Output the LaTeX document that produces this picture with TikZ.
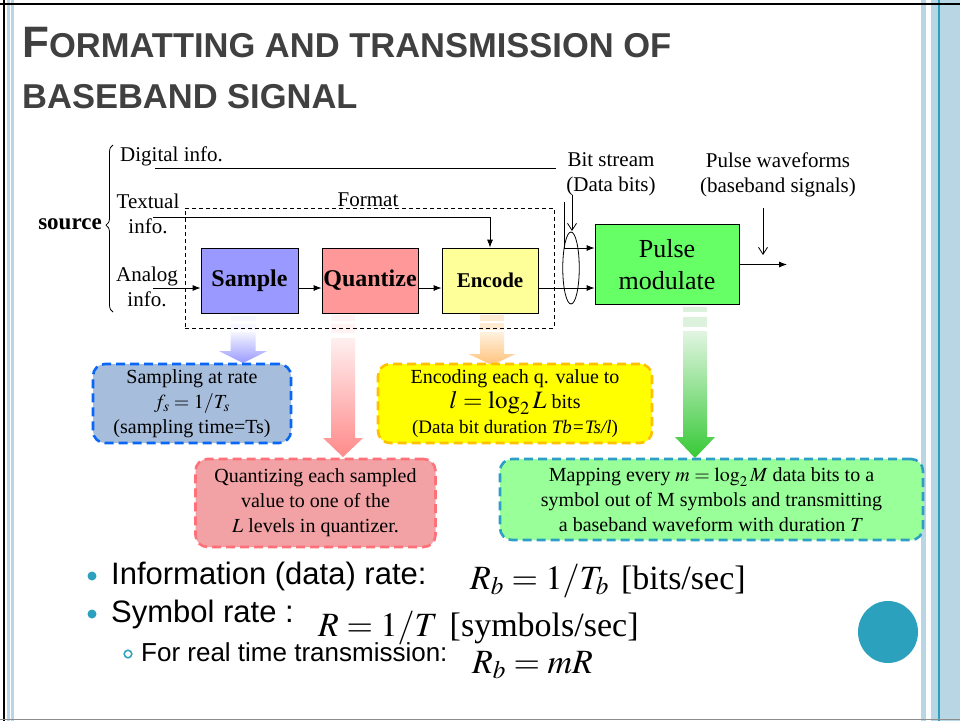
\documentclass[tikz,border=0pt]{standalone}
\usepackage{mathptmx}
\usepackage{fontspec}
\setmainfont{Liberation Serif}
\setsansfont{Liberation Sans}
\usetikzlibrary{arrows.meta,decorations.pathreplacing,shapes.geometric}
\newcommand\fsz[2]{\fontsize{#1}{#2}\selectfont}
\definecolor{tgray}{HTML}{404040}
\definecolor{sampleblue}{HTML}{9999FF}
\definecolor{quantred}{HTML}{FF9999}
\definecolor{encyellow}{HTML}{FFFF99}
\definecolor{pulsegreen}{HTML}{66FF66}
\definecolor{cbluefill}{HTML}{A7BDDC}
\definecolor{cblueborder}{HTML}{0A66F5}
\definecolor{credfill}{HTML}{F2A2A4}
\definecolor{credborder}{HTML}{FF7078}
\definecolor{cyelfill}{HTML}{FFFF00}
\definecolor{cyelborder}{HTML}{FFC000}
\definecolor{cgreenfill}{HTML}{99FF99}
\definecolor{cgreenborder}{HTML}{2E9FC4}
\definecolor{tealc}{HTML}{2CA1BE}
\definecolor{stripec}{HTML}{B8D6E4}
\definecolor{garrtop}{HTML}{E2F5E2}
\definecolor{garrbot}{HTML}{36C936}
\definecolor{garrstripe}{HTML}{DCF2DC}
\definecolor{oarrtop}{HTML}{FFF1DE}
\definecolor{oarrbot}{HTML}{FFC27A}
\definecolor{oarrstripe}{HTML}{FFEBD2}
\newcommand\garrow[8]{\shade[top color=#7, bottom color=#8] ({#1-#5},#2) -- ({#1+#5},#2) -- ({#1+#5},#3) -- ({#1+#6},#3) -- (#1,#4) -- ({#1-#6},#3) -- ({#1-#5},#3) -- cycle;}
\tikzset{
  blk/.style={draw=black, line width=0.8pt, inner sep=0pt, align=center},
  callout/.style={rounded corners=12pt, line width=2.6pt, dash pattern=on 9pt off 5pt, align=center, inner sep=0pt, font=\fsz{20}{25}},
  arr/.style={-{Latex[length=8pt,width=6pt]}, line width=0.8pt},
  barb/.style={-{Straight Barb[length=7pt,width=9pt]}, line width=0.8pt},
  bul/.style={anchor=base west, inner sep=0pt, font=\sffamily\fsz{31}{36}},
  eq/.style={anchor=base west, inner sep=0pt, font=\fsz{34}{40}},
}
\begin{document}
\begin{tikzpicture}[x=1pt,y=-1pt, font=\fsz{21}{25}]
\useasboundingbox (0,0) rectangle (960,721);
\fill[white] (0,0) rectangle (960,721);
% frame
\fill[stripec] (7,0) rectangle (10,721);
\fill[stripec] (11,0) rectangle (13.5,721);
\draw[line width=2pt] (4,0) -- (4,721);
\fill[stripec] (921,0) rectangle (926,721);
\fill[stripec] (931,0) rectangle (960,721);
\draw[tealc, line width=1.5pt] (939,0) -- (939,721);
\draw[line width=2pt] (0,4) -- (960,4);
\draw[black!45, line width=1.5pt] (0,719.5) -- (960,719.5);
% title
\node[anchor=base west, text=tgray, font=\sffamily\bfseries, inner sep=0pt] (title1) at (22,57) {\fsz{44}{44}F\fsz{34.5}{34.5}ORMATTING AND TRANSMISSION OF};
\node[anchor=base west, text=tgray, font=\sffamily\bfseries, inner sep=0pt] (title2) at (22,108) {\fsz{34.5}{34.5}BASEBAND SIGNAL};
% gradient arrows
\fill[white!92!sampleblue] (230.5,316) rectangle (255.5,321);
\fill[white!92!sampleblue] (230.5,324) rectangle (255.5,330);
\garrow{243}{332}{351}{363}{12.5}{24}{white!90!sampleblue}{sampleblue}
\fill[white!88!quantred] (331,315) rectangle (355,321);
\fill[white!88!quantred] (331,324) rectangle (355,333);
\garrow{343}{338}{438}{457}{12}{20}{white!85!quantred}{quantred!90!red}
\fill[oarrstripe] (480,315) rectangle (504,321);
\fill[oarrstripe] (480,323) rectangle (504,330);
\garrow{492}{332}{354}{365}{12}{23.5}{oarrtop}{oarrbot}
\fill[garrstripe] (683,307) rectangle (707,312);
\fill[garrstripe] (683,317) rectangle (707,327);
\garrow{695}{331}{437}{458}{12}{20}{garrtop}{garrbot}
% format box
\node[draw, dashed, dash pattern=on 4pt off 3pt, line width=0.8pt, minimum width=369pt, minimum height=120pt, inner sep=0pt] (fmtbox) at (369.5,268) {};
\node (fmt) at (368,200) {Format};
% blocks
\node[blk, fill=sampleblue, minimum width=97pt, minimum height=65pt, font=\fsz{24}{28}\bfseries] (sample) at (249.5,280.5) {Sample};
\node[blk, fill=quantred, minimum width=96pt, minimum height=65pt, font=\fsz{24}{28}\bfseries] (quant) at (370,280.5) {Quantize};
\node[blk, fill=encyellow, minimum width=96pt, minimum height=65pt, font=\fsz{21}{25}\bfseries] (enc) at (490,280.5) {Encode};
\node[blk, fill=pulsegreen, minimum width=144pt, minimum height=80pt, font=\fsz{26}{32}] (pulse) at (667,264.5) {Pulse\\modulate};
% source labels
\node[anchor=west, inner sep=0pt] (dig) at (120,156) {Digital info.};
\node[align=center, inner sep=0pt] (txt) at (148,214) {Textual\\info.};
\node[align=center, inner sep=0pt] (ana) at (147,287) {Analog\\info.};
\node[font=\fsz{23}{27}\bfseries, inner sep=0pt] (src) at (70,224) {source};
\draw[decorate, decoration={brace, amplitude=7pt, aspect=0.52}, line width=0.8pt] (113,312) -- (113,145);
% connectors
\coordinate (d0) at (155,168);
\coordinate (d1) at (556,168);
\draw[line width=0.8pt] (d0) -- (d1);
\coordinate (t0) at (153,217);
\draw[arr] (t0) -| (enc.north);
\coordinate (a0) at (153,288);
\draw[arr] (a0) -- (sample.west |- a0);
\draw[arr] (sample.east |- a0) -- (quant.west |- a0);
\draw[arr] (quant.east |- a0) -- (enc.west |- a0);
\draw[arr] (enc.east |- a0) -- (pulse.west |- a0);
\coordinate (v0) at (564,202);
\coordinate (v1) at (564,248);
\draw[arr] (v0) -- (v1) -- (pulse.west |- v1);
\node[draw, ellipse, line width=0.8pt, minimum width=16.5pt, minimum height=72pt, inner sep=0pt] (ell) at (571,268) {};
\node[align=center, inner sep=0pt] (bits) at (611,174) {Bit stream\\(Data bits)};
\coordinate (bs0) at (572,195);
\coordinate (bs1) at (572,231);
\draw[barb] (bs0) -- (bs1);
\node[align=center, inner sep=0pt] (pw) at (778,175) {Pulse waveforms\\(baseband signals)};
\coordinate (pw0) at (763,208);
\coordinate (pw1) at (763,255);
\draw[barb] (pw0) -- (pw1);
\coordinate (out) at (787,264.5);
\draw[arr] (pulse.east) -- (out);
% callouts
\node[callout, fill=cbluefill, draw=cblueborder, minimum width=198pt, minimum height=79pt] (cb) at (192,403.5) {Sampling at rate\\ $f_s = 1/T_s$\\ (sampling time=Ts)};
\node[callout, fill=cyelfill, draw=cyelborder, minimum width=274pt, minimum height=79pt] (cy) at (515,403.5) {Encoding each q. value to\\ {\fsz{25}{25}$l=\log_2 L$} bits\hspace*{40pt}\\ {\fsz{19}{25}(Data bit duration \textit{Tb=Ts/l})}};
\node[callout, fill=credfill, draw=credborder, minimum width=240pt, minimum height=88pt] (cr) at (315.5,503) {Quantizing each sampled\\ value to one of the\\ $L$ levels in quantizer.};
\node[callout, fill=cgreenfill, draw=cgreenborder, minimum width=423pt, minimum height=81pt] (cg) at (711.5,499.5) {Mapping every $m=\log_2 M$ data bits to a\\ symbol out of M symbols and transmitting\\ a baseband waveform with duration $T$};
% bullets
\fill[tealc] (92,576) circle (4.5pt);
\fill[tealc] (92,614) circle (4.5pt);
\draw[tealc, line width=1.5pt] (128,654) circle (3.8pt);
\node[bul] (b1) at (111,584) {Information (data) rate:};
\node[bul] (b2) at (111,622) {Symbol rate :};
\node[bul, font=\sffamily\fsz{26}{30}] (b3) at (141,661) {For real time transmission:};
\node[eq] (f1) at (470,589) {$R_b = 1/T_b$\hspace{12pt}[bits/sec]};
\node[eq] (f2) at (318,636) {$R = 1/T$\hspace{12pt}[symbols/sec]};
\node[eq] (f3) at (472,673) {$R_b = mR$};
\fill[tealc] (888,632) ellipse (30pt and 31pt);
\end{tikzpicture}
\end{document}
